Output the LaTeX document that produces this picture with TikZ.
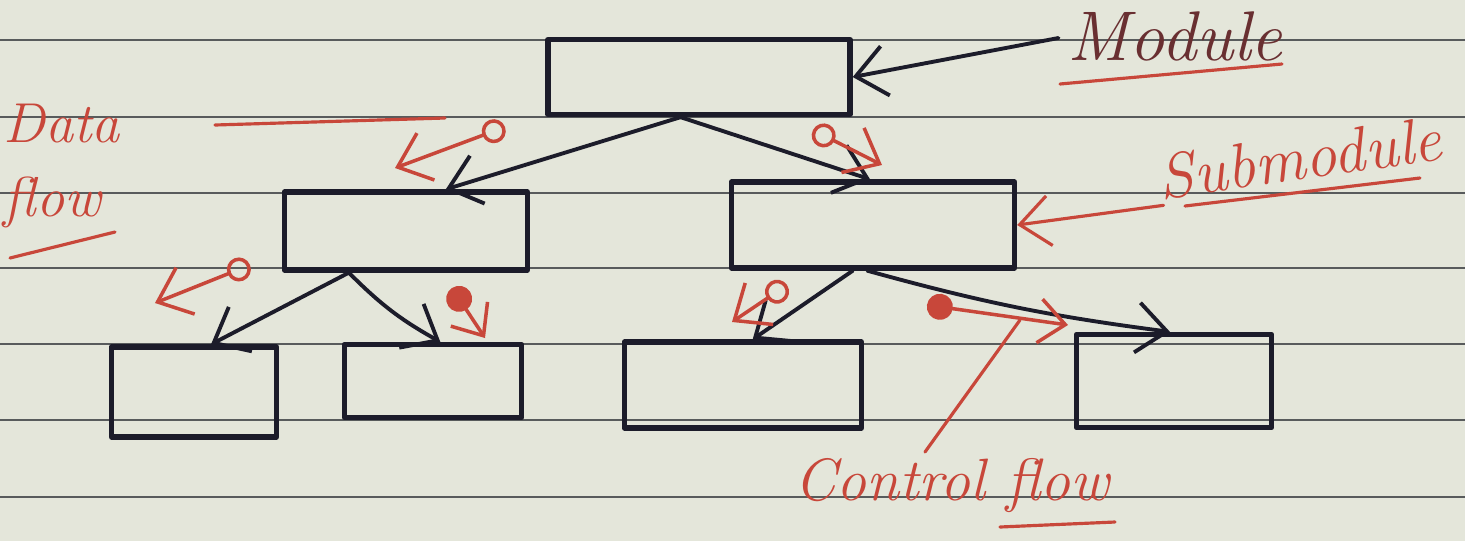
\documentclass[tikz,border=0pt]{standalone}
\usetikzlibrary{arrows.meta,calc}

\definecolor{ink}{HTML}{1C1C2A}
\definecolor{redink}{HTML}{C8473A}
\definecolor{paper}{HTML}{E4E6DA}
\definecolor{ruling}{HTML}{585B5C}

\tikzset{
	box/.style={draw=ink,line width=1.5pt,inner sep=0pt},
	call/.style={draw=ink,line width=1.1pt,-{Straight Barb[length=3mm,width=5mm]}},
	dataflow/.style={draw=redink,line width=1pt,{Circle[open,length=2.4mm]}-{Straight Barb[length=3mm,width=5mm]}},
	ctrlflow/.style={draw=redink,line width=1pt,{Circle[length=2.6mm]}-{Straight Barb[length=2.6mm,width=4.4mm]}},
	note/.style={text=redink,font=\itshape\fontsize{18}{22}\selectfont,inner sep=1pt},
	pointer/.style={draw=redink,line width=0.9pt},
}

\begin{document}
\begin{tikzpicture}[x=0.01cm,y=-0.01cm,line cap=round,line join=round]
	% paper and its ruling
	\fill[paper] (0,0) rectangle (1465,541);
	\useasboundingbox (0,0) rectangle (1465,541);
	\foreach \y in {40,117,193,268,344,420,497}
		\draw[ruling,line width=0.8pt] (0,\y) -- (1465,\y);

	% modules
	\node[box,minimum width=3.02cm,minimum height=0.75cm] (mod) at (699,77) {};
	\node[box,minimum width=2.43cm,minimum height=0.78cm] (subL) at (406,231) {};
	\node[box,minimum width=2.83cm,minimum height=0.86cm] (subR) at (873,225) {};
	\node[box,minimum width=1.65cm,minimum height=0.90cm] (leafA) at (194,392) {};
	\node[box,minimum width=1.77cm,minimum height=0.73cm] (leafB) at (433,381) {};
	\node[box,minimum width=2.37cm,minimum height=0.86cm] (leafC) at (743,385) {};
	\node[box,minimum width=1.95cm,minimum height=0.93cm] (leafD) at (1174,381) {};

	% calls between modules
	\draw[call] ($(mod.south west)!0.44!(mod.south east)$) -- ($(subL.north west)!0.66!(subL.north east)$);
	\draw[call] ($(mod.south west)!0.44!(mod.south east)$) -- ($(subR.north west)!0.49!(subR.north east)$);
	\draw[call] ($(subL.south west)!0.27!(subL.south east)$) -- ($(leafA.north west)!0.6!(leafA.north east)$);
	\draw[call] ($(subL.south west)!0.27!(subL.south east)$) to[bend right=8] ($(leafB.north west)!0.54!(leafB.north east)$);
	\draw[call] ($(subR.south west)!0.43!(subR.south east)$) -- ($(leafC.north west)!0.54!(leafC.north east)$);
	\draw[call] ($(subR.south west)!0.48!(subR.south east)$) to[bend right=4] ($(leafD.north west)!0.48!(leafD.north east)$);

	% data and control passed along the calls
	\coordinate (d1) at (505,127); \coordinate (d1h) at (395,168);
	\coordinate (d2) at (813,130); \coordinate (d2h) at (882,165);
	\coordinate (d3) at (250,265); \coordinate (d3h) at (155,303);
	\coordinate (d4) at (787,285); \coordinate (d4h) at (732,322);
	\coordinate (c1) at (452,288); \coordinate (c1h) at (485,338);
	\coordinate (c2) at (927,305); \coordinate (c2h) at (1068,325);
	\draw[dataflow] (d1) -- (d1h);
	\draw[dataflow] (d2) -- (d2h);
	\draw[dataflow] (d3) -- (d3h);
	\draw[dataflow] (d4) -- (d4h);
	\draw[ctrlflow] (c1) -- (c1h);
	\draw[ctrlflow] (c2) -- (c2h);

	% labels
	\node[note,text=ink!55!redink,font=\itshape\fontsize{20}{24}\selectfont] (modtxt) at (1175,36) {Module};
	\draw[call] ($(modtxt.west)+(-5,2)$) -- (mod.east);
	\draw[pointer] (1060,84) -- (1282,64);

	\node[note,rotate=8] (subtxt) at (1300,158) {Submodule};
	\draw[pointer,-{Straight Barb[length=3mm,width=5mm]}] ($(subtxt.south west)+(5,0)$) -- (subR.east);
	\draw[pointer] (1185,206) -- (1420,178);

	\node[note,align=left,font=\itshape\fontsize{16}{21}\selectfont] (flowtxt) at (62,166) {Data\\flow};
	\coordinate (dataend) at (445,118);
	\draw[pointer] (215,125) -- (dataend);
	\draw[pointer] (10,258) -- (115,232);

	\node[note,font=\itshape\fontsize{17}{20}\selectfont] (ctrltxt) at (952,486) {Control flow};
	\coordinate (ctrlend) at (1020,320);
	\draw[pointer] (925,452) -- (ctrlend);
	\draw[pointer] (1000,527) -- (1115,522);
\end{tikzpicture}
\end{document}
